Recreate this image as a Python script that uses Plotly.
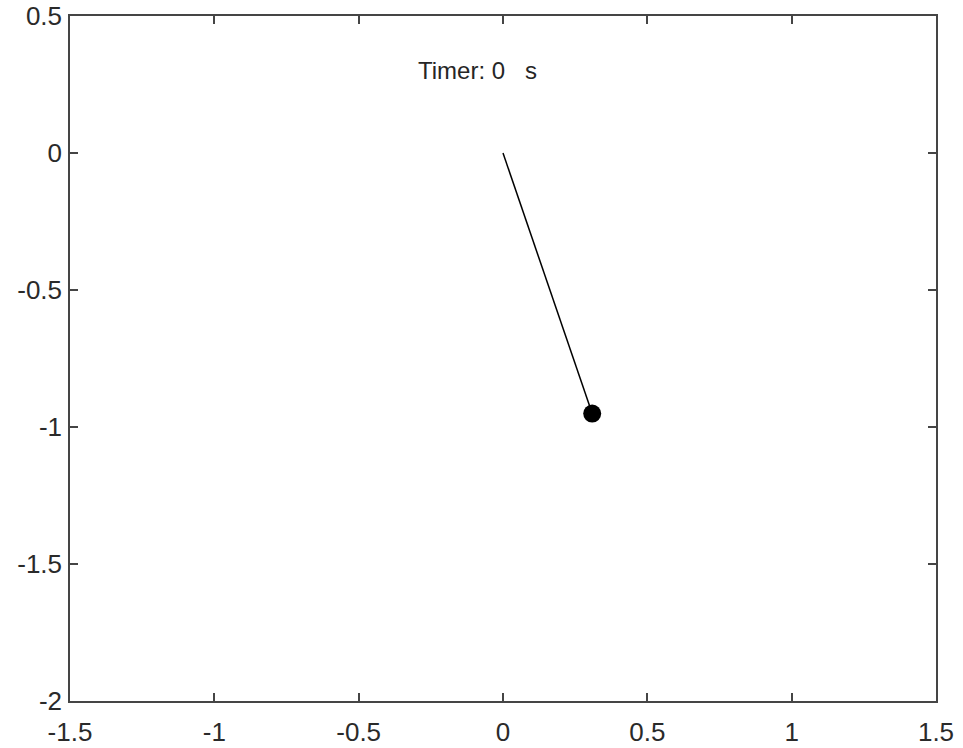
import plotly.graph_objects as go

# Data
rod_x = [0, 0.309]
rod_y = [0, -0.951]
bob_x = [0.309]
bob_y = [-0.951]
timer_text = "Timer: 0\u00a0\u00a0\u00a0s"
timer_pos = (-0.3, 0.3)
x_ticks = [-1.5, -1, -0.5, 0, 0.5, 1, 1.5]
x_labels = ["-1.5", "-1", "-0.5", "0", "0.5", "1", "1.5"]
y_ticks = [0.5, 0, -0.5, -1, -1.5, -2]
y_labels = ["0.5", "0", "-0.5", "-1", "-1.5", "-2"]

FONT = "Liberation Sans, Arial"

fig = go.Figure()
fig.add_trace(go.Scatter(x=rod_x, y=rod_y, mode="lines",
                         line=dict(color="black", width=1.5), showlegend=False))
fig.add_trace(go.Scatter(x=bob_x, y=bob_y, mode="markers",
                         marker=dict(color="black", size=18, line=dict(width=0)),
                         showlegend=False))
fig.add_annotation(x=timer_pos[0], y=timer_pos[1], text=timer_text, showarrow=False,
                   xanchor="left", yanchor="middle",
                   font=dict(family=FONT, size=24, color="#262626"))

axis_common = dict(showline=True, mirror="ticks", linecolor="#454545", linewidth=1.5,
                   ticks="inside", ticklen=8, tickwidth=1.5, tickcolor="#454545",
                   showgrid=False, zeroline=False, automargin=False,
                   ticklabeloverflow="allow",
                   tickfont=dict(family=FONT, size=26, color="#2a2a2a"))

fig.update_xaxes(range=[-1.5, 1.5], tickvals=x_ticks, ticktext=x_labels,
                 ticklabelstandoff=7, **axis_common)
fig.update_yaxes(range=[-2, 0.5], tickvals=y_ticks, ticktext=y_labels,
                 ticklabelstandoff=1, **axis_common)

fig.update_layout(width=963, height=748, margin=dict(l=70, r=27, t=16, b=47),
                  plot_bgcolor="white", paper_bgcolor="white")

fig.write_html("out.html", config={"displayModeBar": False},
               post_script="document.body.style.margin='0px';")
